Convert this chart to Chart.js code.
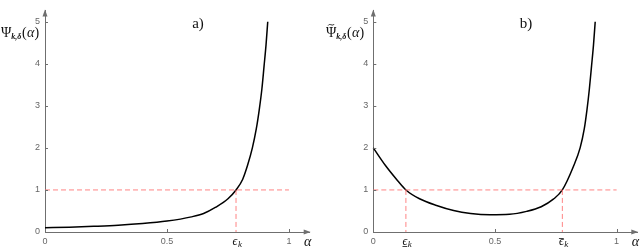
<!DOCTYPE html>
<html><head><meta charset="utf-8">
<script src="https://cdn.jsdelivr.net/npm/chart.js@4.4.0/dist/chart.umd.min.js"></script>
<style>
html,body{margin:0;padding:0;background:#fff;width:640px;height:248px;overflow:hidden}
canvas{position:absolute;top:0}
#ca{left:0}
#cb{left:320px}
</style></head><body>
<canvas id="ca" width="320" height="248"></canvas>
<canvas id="cb" width="320" height="248"></canvas>
<script>
// ---- data ----
const alphaA = [0, 0.1, 0.2, 0.3, 0.4, 0.5, 0.6, 0.65, 0.7, 0.75, 0.783, 0.81, 0.83, 0.85, 0.866, 0.878, 0.889, 0.898, 0.906, 0.913];
const psiA   = [0.10, 0.115, 0.135, 0.16, 0.20, 0.26, 0.36, 0.44, 0.59, 0.79, 1.0, 1.25, 1.58, 2.0, 2.45, 2.9, 3.4, 3.95, 4.45, 5.0];
const alphaB = [0, 0.05, 0.1, 0.134, 0.19, 0.26, 0.33, 0.40, 0.48, 0.56, 0.63, 0.69, 0.74, 0.777, 0.822, 0.85, 0.867, 0.878, 0.888, 0.897, 0.905, 0.912];
const psiB   = [2.0, 1.58, 1.22, 1.0, 0.79, 0.63, 0.51, 0.44, 0.41, 0.42, 0.49, 0.60, 0.78, 1.0, 1.55, 2.0, 2.45, 2.9, 3.4, 3.95, 4.45, 5.0];
const epsA = [0.783];
const epsB = [0.134, 0.777];
const threshold = 1;
const xTicks = [0, 0.5, 1];
const xTickLabels = ['0', '0.5', '1'];
const yTicks = [0, 1, 2, 3, 4, 5];
const panelLabels = ['a)', 'b)'];

const AXIS = '#6f6f6f';
const TICKTXT = '#666';
const RED = 'rgba(255,110,110,0.85)';
const SERIF = '"Liberation Serif","DejaVu Serif",serif';

function pts(xs, ys) { return xs.map((x, i) => ({x: x, y: ys[i]})); }

function makePanel(id, alphas, psis, eps, opt) {
  const ds = [];
  ds.push({data: [{x: 0, y: threshold}, {x: 1, y: threshold}], borderColor: RED, borderWidth: 1, borderDash: [5, 3], pointRadius: 0, fill: false});
  eps.forEach(e => ds.push({data: [{x: e, y: threshold}, {x: e, y: 0}], borderColor: RED, borderWidth: 1, borderDash: [5, 3], pointRadius: 0, fill: false}));
  ds.push({data: pts(alphas, psis), borderColor: '#000', borderWidth: 1.5, pointRadius: 0, fill: false, cubicInterpolationMode: 'monotone'});

  const decor = {
    id: 'decor',
    afterDraw(chart) {
      const ctx = chart.ctx, xs = chart.scales.x, ys = chart.scales.y, ca = chart.chartArea;
      const x0 = xs.getPixelForValue(0), y0 = ys.getPixelForValue(0);
      ctx.save();
      ctx.strokeStyle = AXIS; ctx.fillStyle = AXIS; ctx.lineWidth = 1;
      // inside tick marks
      ctx.beginPath();
      yTicks.forEach(v => { if (v === 0) return; const y = Math.round(ys.getPixelForValue(v)) + 0.5; ctx.moveTo(x0, y); ctx.lineTo(x0 + 3, y); });
      xTicks.forEach(v => { if (v === 0) return; const x = Math.round(xs.getPixelForValue(v)) + 0.5; ctx.moveTo(x, y0); ctx.lineTo(x, y0 - 3); });
      ctx.stroke();
      // arrows
      ctx.beginPath();
      ctx.moveTo(x0, ca.top - 1); ctx.lineTo(x0 - 2.5, ca.top + 6); ctx.lineTo(x0 + 2.5, ca.top + 6); ctx.closePath(); ctx.fill();
      ctx.beginPath();
      ctx.moveTo(ca.right + 1, y0); ctx.lineTo(ca.right - 6, y0 - 2.5); ctx.lineTo(ca.right - 6, y0 + 2.5); ctx.closePath(); ctx.fill();
      // epsilon tick labels
      ctx.fillStyle = '#111';
      eps.forEach((e, i) => {
        const x = xs.getPixelForValue(e);
        ctx.font = 'italic 12px ' + SERIF;
        ctx.textBaseline = 'alphabetic'; ctx.textAlign = 'left';
        const w = ctx.measureText('ϵ').width;
        const ex = x - w / 2 - 1;
        ctx.fillText('ϵ', ex, 244.5);
        ctx.font = 'italic 9px ' + SERIF;
        ctx.fillText('k', ex + w + 0.5, 247);
        if (opt.marks) {
          ctx.strokeStyle = '#111'; ctx.lineWidth = 0.8;
          ctx.beginPath();
          if (opt.marks[i] === 'under') { ctx.moveTo(ex, 246.5); ctx.lineTo(ex + w, 246.5); }
          else { ctx.moveTo(ex, 238.5); ctx.lineTo(ex + w, 238.5); }
          ctx.stroke();
        }
      });
      // alpha axis label
      ctx.font = 'italic 14px ' + SERIF; ctx.textAlign = 'center'; ctx.textBaseline = 'alphabetic';
      ctx.fillText('α', ca.right - 2, 246);
      // panel label
      ctx.font = '15px ' + SERIF;
      ctx.fillText(opt.panel, opt.panelX, 28);
      // y label
      ctx.textAlign = 'left';
      let lx = opt.labelX;
      ctx.font = '14px ' + SERIF;
      ctx.fillText('Ψ', lx, 37);
      const pw = ctx.measureText('Ψ').width;
      if (opt.tilde) {
        const cx = lx + pw / 2;
        ctx.strokeStyle = '#111'; ctx.lineWidth = 0.9;
        ctx.beginPath();
        ctx.moveTo(cx - 3, 25.5);
        ctx.bezierCurveTo(cx - 1.5, 22.8, cx + 1.5, 26.8, cx + 3, 24);
        ctx.stroke();
      }
      lx += pw;
      ctx.font = 'italic bold 8px ' + SERIF;
      ctx.fillText('k,δ', lx, 39);
      lx += ctx.measureText('k,δ').width + 0.5;
      ctx.font = '14px ' + SERIF;
      ctx.fillText('(', lx, 37); lx += ctx.measureText('(').width + 0.3;
      ctx.font = 'italic 14px ' + SERIF;
      ctx.fillText('α', lx, 37); lx += ctx.measureText('α').width + 0.3;
      ctx.font = '14px ' + SERIF;
      ctx.fillText(')', lx, 37);
      ctx.restore();
    }
  };

  return new Chart(document.getElementById(id), {
    type: 'line',
    data: {datasets: ds},
    options: {
      responsive: false, animation: false, clip: false,
      layout: {padding: {left: 0, right: opt.padRight, top: 0, bottom: 0}},
      plugins: {legend: {display: false}, tooltip: {enabled: false}},
      scales: {
        x: {
          type: 'linear', min: 0, max: 1.085,
          afterBuildTicks: s => { s.ticks = xTicks.map(v => ({value: v})); },
          afterFit: s => { s.height = 16; },
          grid: {display: false, drawTicks: false},
          border: {display: true, color: AXIS, width: 1},
          ticks: {padding: 4, color: TICKTXT, font: {size: 9, family: '"Liberation Sans",Arial,sans-serif'}, maxRotation: 0,
                  callback: (v) => { const i = xTicks.indexOf(v); return i >= 0 ? xTickLabels[i] : ''; }}
        },
        y: {
          type: 'linear', min: 0, max: 5.27,
          afterBuildTicks: s => { s.ticks = yTicks.map(v => ({value: v})); },
          afterFit: s => { s.width = opt.yWidth; },
          grid: {display: false, drawTicks: false},
          border: {display: true, color: AXIS, width: 1},
          ticks: {padding: 5, color: TICKTXT, font: {size: 9, family: '"Liberation Sans",Arial,sans-serif'},
                  callback: v => String(v)}
        }
      }
    },
    plugins: [decor]
  });
}

makePanel('ca', alphaA, psiA, epsA, {yWidth: 45, padRight: 10.3, panel: panelLabels[0], panelX: 198, labelX: 1, tilde: false});
makePanel('cb', alphaB, psiB, epsB, {yWidth: 53.3, padRight: 2.7, panel: panelLabels[1], panelX: 206, labelX: 6, tilde: true, marks: ['under', 'over']});
</script>
</body></html>
